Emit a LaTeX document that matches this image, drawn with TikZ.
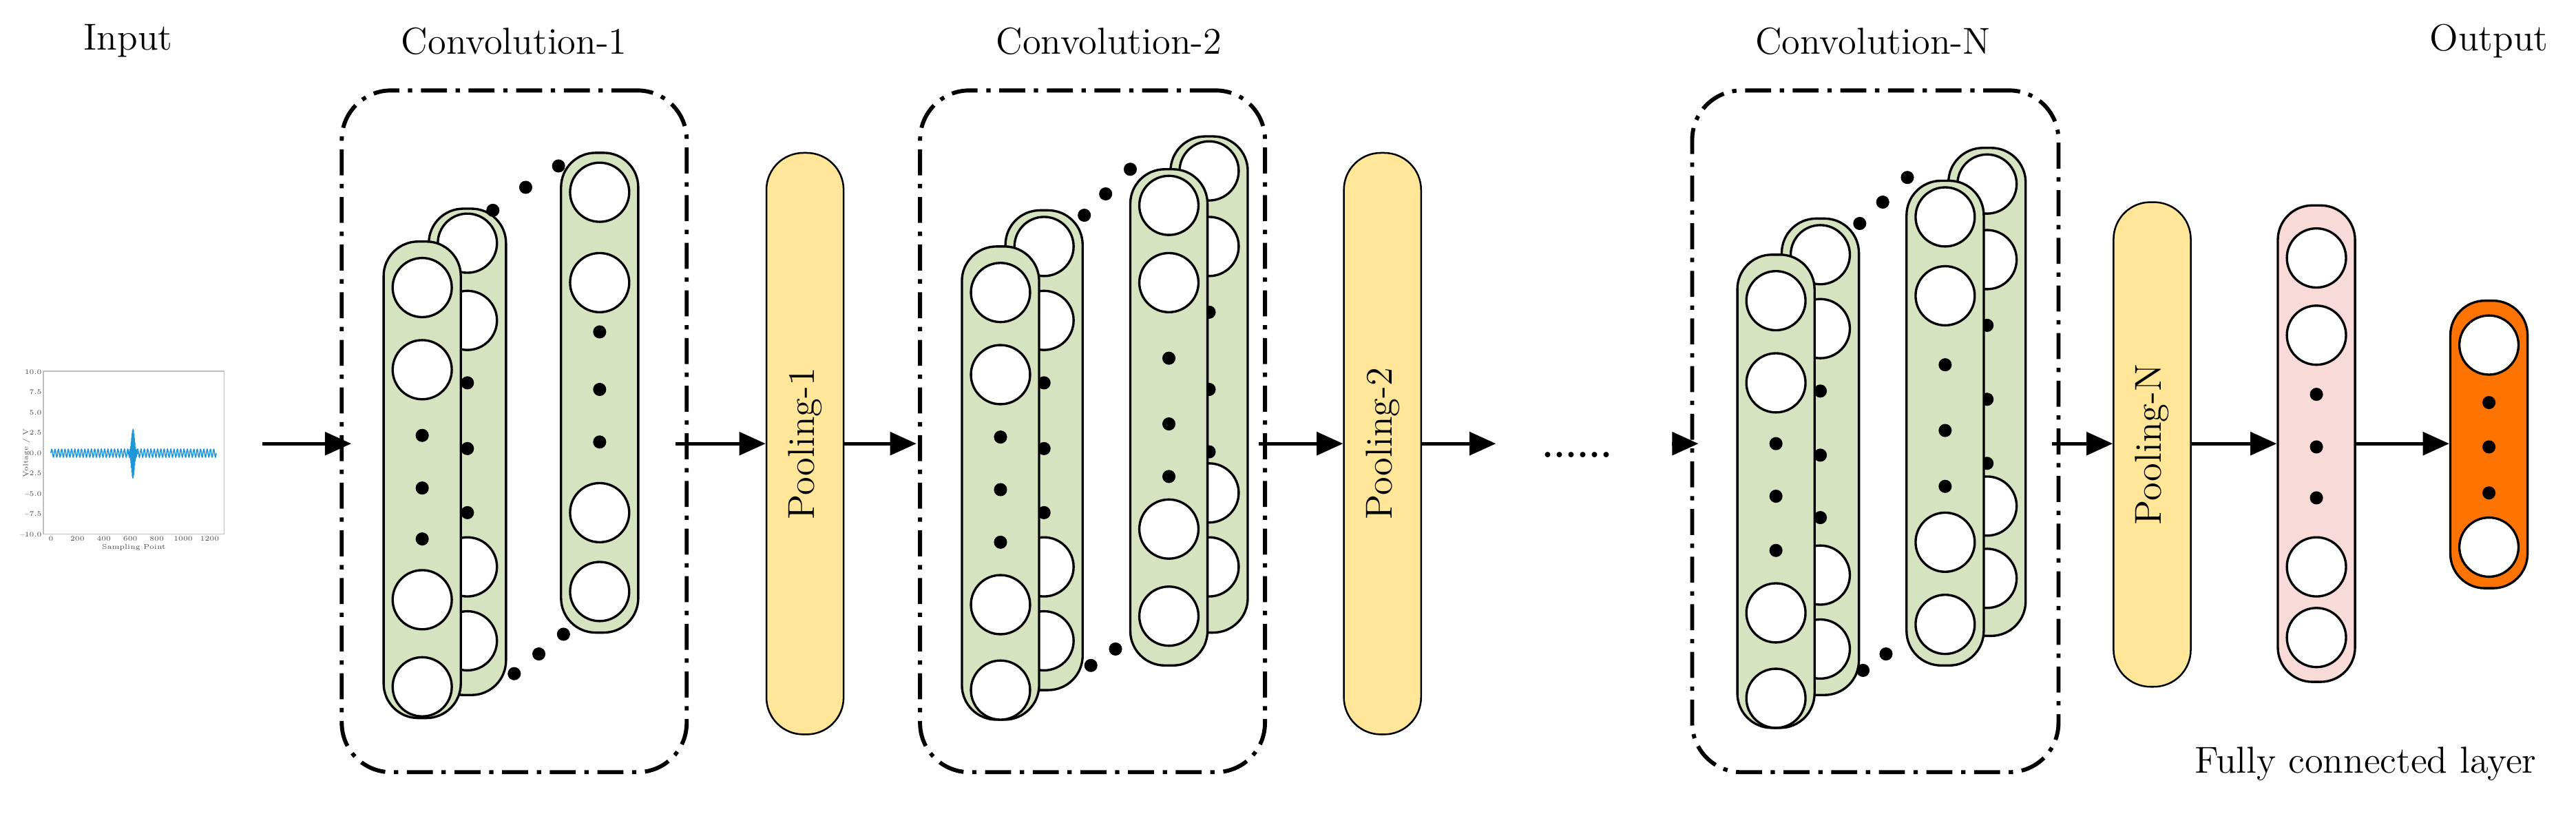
\documentclass[tikz,border=0pt]{standalone}
\usetikzlibrary{arrows.meta,positioning}
\definecolor{convgreen}{HTML}{D5E3C0}
\definecolor{poolyellow}{HTML}{FFE699}
\definecolor{fcpink}{HTML}{F8DBD8}
\definecolor{outorange}{HTML}{FF7300}
\definecolor{sigblue}{RGB}{31,150,215}
\tikzset{
  title/.style={font=\fontsize{13}{15}\selectfont},
  convbox/.style={draw, line width=1.4pt, rounded corners=0.6cm,
                  dash pattern=on 9pt off 3pt on 1.5pt off 3pt},
  pool/.style={draw, fill=poolyellow, rounded corners=0.45cm, line width=0.6pt,
               minimum height=0.94cm, rotate=90, font=\fontsize{13}{15}\selectfont},
  arrow/.style={line width=1.1pt, -{Triangle[length=0.32cm,width=0.28cm]}},
  unit/.style={circle, draw, fill=white, line width=0.8pt, minimum size=0.72cm, inner sep=0pt},
  bigdot/.style={circle, fill=black, minimum size=0.16cm, inner sep=0pt},
  tick/.style={font=\fontsize{2.4}{3}\selectfont, text=black!70, inner sep=0.4pt}
}
% column: name, x, top, bottom, colour, circle ys, dot ys
\newcommand{\layercol}[7]{%
  \node (#1) [draw, fill=#5, line width=0.8pt, rounded corners=0.42cm,
              minimum width=0.94cm, minimum height={(#4-#3)*0.02cm}, inner sep=0pt]
              at (#2,{(#3+#4)/2}) {};
  \foreach \yy in {#6} \node [unit] at (#2,\yy) {};
  \foreach \yy in {#7} \node [bigdot] at (#2,\yy) {};
}
\begin{document}
\begin{tikzpicture}[x=0.02cm, y=-0.02cm]
  \useasboundingbox (0,0) rectangle (1568,495);
  \coordinate (row) at (0,270);
  %titles
  \node [title] at (78,25) {Input};
  \node [title] at (313,25) {Convolution-1};
  \node [title] at (675,25) {Convolution-2};
  \node [title] at (1140,25) {Convolution-N};
  \node [title] at (1515,25) {Output};
  \node [title] at (1440,465) {Fully connected layer};
  %input signal
  \node (plot) [draw=black!25, line width=0.4pt, minimum width=2.2cm, minimum height=1.98cm,
                inner sep=0pt] at (81.5,275.5) {};
  \draw [line width=0.35pt, sigblue]
    plot [domain=0:1250, samples=700]
    (\x*0.0805+31, {275.8-4.95*(sin(\x*7.2)*cos(\x*7.2))});
  \draw [line width=0.35pt, sigblue]
    plot [domain=580:665, samples=120]
    (\x*0.0805+31, {275.8-4.95*(3.2*exp(-((\x-620)/16)^2)*sin((\x-580)*100))});
  \foreach \v/\t in {-10/--10.0,-7.5/--7.5,-5/--5.0,-2.5/--2.5,0/0.0,2.5/2.5,5/5.0,7.5/7.5,10/10.0}
    \node [tick, anchor=east] at (26.4,275.8-4.95*\v) {\t};
  \foreach \v in {0,200,...,1200}
    \node [tick, anchor=north] at (\v*0.0805+31,325.5) {\v};
  \node [tick] at (81.5,333) {Sampling Point};
  \node [tick, rotate=90] at (16,275.8) {Voltage / V};
  %convolution 1
  \node (conv1) [convbox, minimum width=4.2cm, minimum height=8.3cm] at (313,262.5) {};
  \layercol{c1b}{284.5}{127}{423}{convgreen}{148,195,345,390}{233,273,312}
  \layercol{c1a}{257}{147}{437}{convgreen}{175,225,365,418}{265,297,328}
  \layercol{c1c}{365}{93}{385}{convgreen}{117,172,312,360}{202,237,269}
  \foreach \p in {(300,128),(320,114),(340,101),(313,410),(328,398),(343,386)}
    \node [bigdot] at \p {};
  \node (pool1) [pool, minimum width=7.08cm] at (490,270) {Pooling-1};
  %convolution 2
  \node (conv2) [convbox, minimum width=4.2cm, minimum height=8.3cm] at (665,262.5) {};
  \layercol{c2b}{635.5}{128}{420}{convgreen}{150,195,345,390}{233,273,312}
  \layercol{c2a}{609}{150}{438}{convgreen}{178,228,368,420}{266,298,330}
  \layercol{c2d}{736}{83}{385}{convgreen}{104,150,300,345}{190,237,275}
  \layercol{c2c}{711.5}{103}{405}{convgreen}{125,172,322,375}{218,258,290}
  \foreach \p in {(660,131),(673,118),(688,103),(664,405),(679,395)}
    \node [bigdot] at \p {};
  \node (pool2) [pool, minimum width=7.08cm] at (841.5,270) {Pooling-2};
  \node (gap) at (960,277) {\fontsize{13}{15}\selectfont\textbf{......}};
  %convolution N
  \node (convN) [convbox, minimum width=4.46cm, minimum height=8.3cm] at (1141.5,262.5) {};
  \layercol{cNb}{1108}{133}{423}{convgreen}{155,200,350,395}{238,277,315}
  \layercol{cNa}{1081}{155}{443}{convgreen}{183,233,373,425}{270,302,335}
  \layercol{cNd}{1209.5}{90}{387}{convgreen}{112,158,308,352}{198,243,282}
  \layercol{cNc}{1184}{110}{405}{convgreen}{132,180,330,380}{222,262,296}
  \foreach \p in {(1132,136),(1146,123),(1161,108),(1134,408),(1148,398)}
    \node [bigdot] at \p {};
  \node (poolN) [pool, minimum width=5.9cm] at (1310,270.5) {Pooling-N};
  %fully connected and output
  \layercol{fc}{1410}{125}{415}{fcpink}{157,204,345,388}{240,272,303}
  \layercol{out}{1515}{183}{358}{outorange}{210,333}{245,272,300}
  %connections
  \draw [arrow] ([xshift=0.46cm]plot.east |- row) -- ([xshift=0.14cm]conv1.west |- row);
  \draw [arrow] ([xshift=-0.16cm]conv1.east |- row) -- (pool1.north |- row);
  \draw [arrow] (pool1.south |- row) -- ([xshift=-0.02cm]conv2.west |- row);
  \draw [arrow] ([xshift=-0.1cm]conv2.east |- row) -- (pool2.north |- row);
  \draw [arrow] (pool2.south |- row) -- ([xshift=0.9cm]pool2.south |- row);
  \draw [arrow] ([xshift=0.6cm]gap.east |- row) -- ([xshift=0.1cm]convN.west |- row);
  \draw [arrow] ([xshift=-0.1cm]convN.east |- row) -- (poolN.north |- row);
  \draw [arrow] (poolN.south |- row) -- (fc.west |- row);
  \draw [arrow] (fc.east |- row) -- (out.west |- row);
\end{tikzpicture}
\end{document}
